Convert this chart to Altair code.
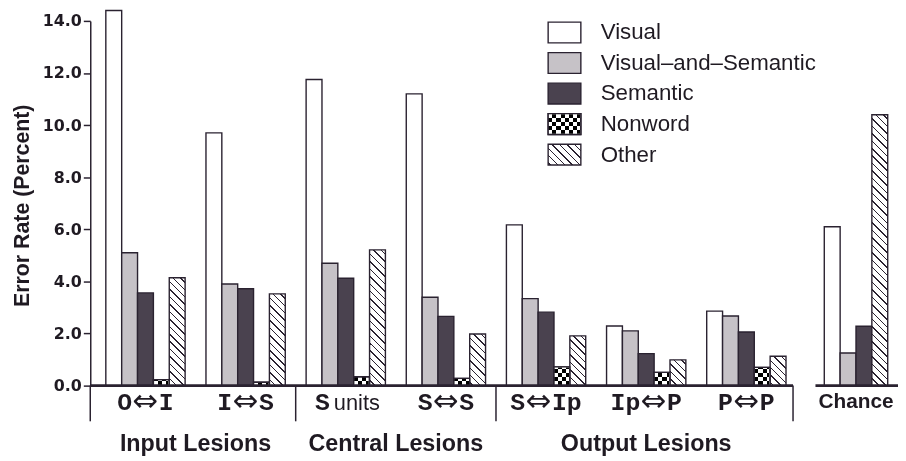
import math
import altair as alt

# ---------------- data ----------------
GROUPS = ["O⇔I", "I⇔S", "S units", "S⇔S", "S⇔Ip", "Ip⇔P", "P⇔P"]
LABEL_LEFT = ["O", "I", "S", "S", "S", "Ip", "P"]
LABEL_ARROW = ["⇔", "⇔", "", "⇔", "⇔", "⇔", "⇔"]
LABEL_RIGHT = ["I", "S", "", "S", "Ip", "P", "P"]
LABEL_SANS = ["", "", "units", "", "", "", ""]
SERIES = ["Visual", "Visual–and–Semantic", "Semantic", "Nonword", "Other"]

VISUAL = [14.4, 9.7, 11.75, 11.2, 6.17, 2.29, 2.86]
VIS_SEM = [5.1, 3.9, 4.7, 3.39, 3.34, 2.1, 2.67]
SEMANTIC = [3.56, 3.72, 4.12, 2.66, 2.82, 1.23, 2.06]
NONWORD = [0.23, 0.13, 0.34, 0.28, 0.72, 0.51, 0.70]
OTHER = [4.14, 3.52, 5.21, 1.98, 1.91, 0.99, 1.13]

CHANCE_SERIES = ["Visual", "Visual–and–Semantic", "Semantic", "Other"]
CHANCE = [6.1, 1.25, 2.28, 10.4]

LESIONS = ["Input Lesions", "Central Lesions", "Output Lesions"]
LESION_MEMBERS = [[0, 1], [2, 3], [4, 5, 6]]

Y_TICKS = [0, 2, 4, 6, 8, 10, 12, 14]

# ---------------- layout / style ----------------
W, H = 815, 368
Y_MAX = 14
PX_Y = H / Y_MAX
STEP_PX = 101.04
BW = 16 / STEP_PX               # bar width in group units
X_MIN, X_MAX = -0.1554, 7.9101
MAIN_RIGHT = 6.862
CHANCE_LEFT = 7.086
CHANCE_X0 = 7.174
GAP_MID = (1 - 5 * BW) / 2
MONO_ADV = 15.0                 # advance of one mono character (px)
ARROW_W = 27.0                  # width given to the arrow (px)

INK = "#2a2230"
TEXT = "#1f1a22"
COLORS = {"Visual": "#ffffff", "Visual–and–Semantic": "#c6c2c7", "Semantic": "#4a424f"}


def hatch(w, h, period=7.5, lw=1.5, ink=INK, paper="#ffffff"):
    total = w + h
    k = total / (w * w + h * h)
    stops = [{"offset": 0, "color": paper}]
    n0 = math.floor(-h / period) - 1
    n1 = math.ceil(w / period) + 1
    for n in range(n0, n1 + 1):
        c = n * period + period / 2
        s = (c - lw / 2 + h) / total
        e = (c + lw / 2 + h) / total
        if e <= 0 or s >= 1:
            continue
        s, e = max(s, 0.0), min(e, 1.0)
        stops += [{"offset": s, "color": paper}, {"offset": s, "color": ink},
                  {"offset": e, "color": ink}, {"offset": e, "color": paper}]
    stops.append({"offset": 1, "color": paper})
    return {"gradient": "linear", "x1": 0, "y1": 1, "x2": k * w, "y2": 1 - k * h,
            "stops": stops}


def stripes(length, q, a, b, vertical):
    stops = []
    n = int(math.ceil(length / q))
    for i in range(n):
        col = a if i % 2 == 0 else b
        s = min(i * q / length, 1.0)
        e = min((i + 1) * q / length, 1.0)
        stops += [{"offset": s, "color": col}, {"offset": e, "color": col}]
    if vertical:   # rows counted from the bottom
        return {"gradient": "linear", "x1": 0, "y1": 1, "x2": 0, "y2": 0, "stops": stops}
    return {"gradient": "linear", "x1": 0, "y1": 0, "x2": 1, "y2": 0, "stops": stops}


def fills(series, w, h):
    if series == "Other":
        return hatch(w, h), None
    if series == "Nonword":
        return (stripes(w, 4.2, "#000000", "#ffffff", False),
                stripes(max(h, 0.5), 4.2, "#ffffff", "#000000", True))
    return COLORS[series], None


# ---------------- tables ----------------
bars = []
cols = [VISUAL, VIS_SEM, SEMANTIC, NONWORD, OTHER]
for g in range(len(GROUPS)):
    for si, name in enumerate(SERIES):
        v = cols[si][g]
        f, o = fills(name, 16, v * PX_Y)
        bars.append({"x0": g + si * BW, "x1": g + (si + 1) * BW, "value": v,
                     "series": name, "fill": f, "over": o})
for j, name in enumerate(CHANCE_SERIES):
    v = CHANCE[j]
    f, o = fills(name, 16, v * PX_Y)
    bars.append({"x0": CHANCE_X0 + j * BW, "x1": CHANCE_X0 + (j + 1) * BW, "value": v,
                 "series": name, "fill": f, "over": o})
nonword = [b for b in bars if b["over"] is not None]

arrow_labels, plain_labels = [], []
for g in range(len(GROUPS)):
    center = g + 2.5 * BW
    if LABEL_ARROW[g]:
        lw = MONO_ADV * len(LABEL_LEFT[g])
        rw = MONO_ADV * len(LABEL_RIGHT[g])
        total = lw + ARROW_W + rw
        ax = center + (lw + ARROW_W / 2 - total / 2) / STEP_PX
        arrow_labels.append({"xa": ax, "xl": ax - ARROW_W / 2 / STEP_PX,
                             "xr": ax + ARROW_W / 2 / STEP_PX,
                             "left": LABEL_LEFT[g], "arrow": LABEL_ARROW[g],
                             "right": LABEL_RIGHT[g]})
    else:
        plain_labels.append({"xc": center, "mono": LABEL_LEFT[g], "sans": LABEL_SANS[g]})

lesions = [{"xc": sum(m + 2.5 * BW for m in mem) / len(mem), "label": lab}
           for lab, mem in zip(LESIONS, LESION_MEMBERS)]
dividers = [{"x": X_MIN}, {"x": 2 - GAP_MID}, {"x": 4 - GAP_MID}, {"x": MAIN_RIGHT}]
baselines = [{"a": X_MIN, "b": MAIN_RIGHT}, {"a": CHANCE_LEFT, "b": X_MAX}]
chance_lab = [{"xc": CHANCE_X0 + 2 * BW, "label": "Chance"}]

legend = []
for i, name in enumerate(SERIES):
    f, o = fills(name, 33, 21)
    legend.append({"row": i, "row2": i + 21 / 30.8, "rowc": i + 10.5 / 30.8,
                   "label": name, "fill": f, "over": o})
legend_over = [r for r in legend if r["over"] is not None]

xs = alt.Scale(domain=[X_MIN, X_MAX], nice=False, zero=False)
ys = alt.Scale(domain=[0, Y_MAX], nice=False)
ls = alt.Scale(domain=[0, 5], range=[1.2, 1.2 + 5 * 30.8], nice=False, zero=False)

# ---------------- layers ----------------
bar_base = alt.Chart(alt.Data(values=bars)).mark_rect(stroke=INK, strokeWidth=1.4).encode(
    x=alt.X("x0:Q", scale=xs, axis=None),
    x2="x1:Q",
    y=alt.Y("value:Q", scale=ys, title="Error Rate (Percent)",
            axis=alt.Axis(values=Y_TICKS, format=".1f", grid=False, tickSize=7,
                          labelPadding=2, labelFont="DejaVu Sans", labelFontSize=16,
                          labelFontWeight="bold", labelColor=TEXT, tickColor=INK,
                          domainColor=INK, tickWidth=1.5, domainWidth=1.5,
                          titleFont="Liberation Sans", titleFontSize=21.5,
                          titleFontWeight="bold", titleColor=TEXT, titleX=-62.5,
                          titleY=186, titleAngle=-90, titleAlign="center",
                          titleBaseline="alphabetic")),
    y2=alt.datum(0),
    fill=alt.Fill("fill:N", scale=None),
)

nw_over = alt.Chart(alt.Data(values=nonword)).mark_rect(blend="difference", strokeWidth=0).encode(
    x=alt.X("x0:Q", scale=xs, axis=None), x2="x1:Q",
    y=alt.Y("value:Q", scale=ys, axis=None), y2=alt.datum(0),
    fill=alt.Fill("over:N", scale=None),
)
nw_line = alt.Chart(alt.Data(values=nonword)).mark_rect(
    fillOpacity=0, stroke=INK, strokeWidth=1.4).encode(
    x=alt.X("x0:Q", scale=xs, axis=None), x2="x1:Q",
    y=alt.Y("value:Q", scale=ys, axis=None), y2=alt.datum(0),
)

base_rules = alt.Chart(alt.Data(values=baselines)).mark_rule(color=INK, strokeWidth=2.6).encode(
    x=alt.X("a:Q", scale=xs, axis=None), x2="b:Q",
    y=alt.Y(datum=0, scale=ys, axis=None),
)

div_rules = alt.Chart(alt.Data(values=dividers)).mark_rule(color=INK, strokeWidth=1.5).encode(
    x=alt.X("x:Q", scale=xs, axis=None),
    y=alt.value(H), y2=alt.value(H + 36),
)

MONO = "Liberation Mono"
LAB_Y = H + 25
lab_left = alt.Chart(alt.Data(values=arrow_labels)).mark_text(
    font=MONO, fontSize=25, fontWeight="bold", color=TEXT,
    align="right", baseline="alphabetic").encode(
    x=alt.X("xl:Q", scale=xs, axis=None), y=alt.value(LAB_Y), text="left:N")
lab_arrow = alt.Chart(alt.Data(values=arrow_labels)).mark_text(
    font="DejaVu Sans", fontSize=31, color=TEXT,
    align="center", baseline="alphabetic").encode(
    x=alt.X("xa:Q", scale=xs, axis=None), y=alt.value(LAB_Y + 1), text="arrow:N")
lab_right = alt.Chart(alt.Data(values=arrow_labels)).mark_text(
    font=MONO, fontSize=25, fontWeight="bold", color=TEXT,
    align="left", baseline="alphabetic").encode(
    x=alt.X("xr:Q", scale=xs, axis=None), y=alt.value(LAB_Y), text="right:N")
cat_mono = alt.Chart(alt.Data(values=plain_labels)).mark_text(
    font=MONO, fontSize=25, fontWeight="bold", color=TEXT,
    align="right", baseline="alphabetic", dx=-16).encode(
    x=alt.X("xc:Q", scale=xs, axis=None), y=alt.value(LAB_Y), text="mono:N")
cat_sans = alt.Chart(alt.Data(values=plain_labels)).mark_text(
    font="Liberation Sans", fontSize=22, color=TEXT,
    align="left", baseline="alphabetic", dx=-12).encode(
    x=alt.X("xc:Q", scale=xs, axis=None), y=alt.value(LAB_Y), text="sans:N")

lesion_text = alt.Chart(alt.Data(values=lesions)).mark_text(
    font="Liberation Sans", fontSize=23.5, fontWeight="bold", color=TEXT,
    align="center", baseline="alphabetic").encode(
    x=alt.X("xc:Q", scale=xs, axis=None), y=alt.value(H + 65.7), text="label:N")

chance_text = alt.Chart(alt.Data(values=chance_lab)).mark_text(
    font="Liberation Sans", fontSize=21, fontWeight="bold", color=TEXT,
    align="center", baseline="alphabetic").encode(
    x=alt.X("xc:Q", scale=xs, axis=None), y=alt.value(H + 22.3), text="label:N")

leg_box = alt.Chart(alt.Data(values=legend)).mark_rect(stroke=INK, strokeWidth=1.4).encode(
    x=alt.value(462), x2=alt.value(495),
    y=alt.Y("row:Q", scale=ls, axis=None), y2="row2:Q",
    fill=alt.Fill("fill:N", scale=None),
)
leg_over = alt.Chart(alt.Data(values=legend_over)).mark_rect(blend="difference", strokeWidth=0).encode(
    x=alt.value(462), x2=alt.value(495),
    y=alt.Y("row:Q", scale=ls, axis=None), y2="row2:Q",
    fill=alt.Fill("over:N", scale=None),
)
leg_line = alt.Chart(alt.Data(values=legend_over)).mark_rect(
    fillOpacity=0, stroke=INK, strokeWidth=1.4).encode(
    x=alt.value(462), x2=alt.value(495),
    y=alt.Y("row:Q", scale=ls, axis=None), y2="row2:Q",
)
leg_text = alt.Chart(alt.Data(values=legend)).mark_text(
    font="Liberation Sans", fontSize=22.5, color=TEXT, align="left", baseline="middle").encode(
    x=alt.value(515), y=alt.Y("rowc:Q", scale=ls, axis=None), text="label:N")

chart = alt.layer(
    bar_base, nw_over, nw_line, base_rules, div_rules,
    lab_left, lab_arrow, lab_right, cat_mono, cat_sans, lesion_text, chance_text,
    leg_box, leg_over, leg_line, leg_text,
).resolve_scale(y="independent").properties(
    width=W, height=H,
    padding={"left": 83, "top": 11, "right": 0, "bottom": 70},
    autosize=alt.AutoSizeParams(type="none"),
    background="#ffffff",
).configure_view(strokeWidth=0, stroke="transparent")

chart.save("out.html", embed_options={"renderer": "svg", "actions": False})
